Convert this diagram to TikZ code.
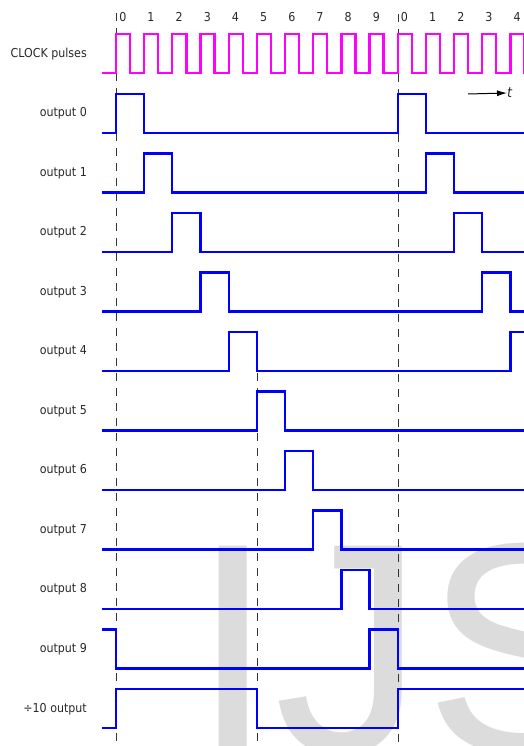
\documentclass[tikz,border=0pt]{standalone}
\usepackage{fontspec}
\setmainfont{DejaVu Sans Condensed}
\newfontfamily\wmfont{Liberation Sans}
\usetikzlibrary{arrows.meta}
\definecolor{sigblue}{RGB}{0,0,255}
\definecolor{clkmag}{RGB}{255,0,255}
\definecolor{wmgray}{RGB}{220,220,220}
\definecolor{txtgray}{RGB}{40,40,40}
\tikzset{
  sig/.style={draw=sigblue, line width=2.3pt, line join=miter},
  clk/.style={draw=clkmag, line width=2.3pt, line join=miter},
  guide/.style={draw=black!80, line width=0.9pt, dash pattern=on 8pt off 7pt},
  lbl/.style={anchor=east, inner sep=0pt, text=txtgray, font=\fontsize{12.3}{14}\selectfont},
  num/.style={anchor=center, inner sep=0pt, text=txtgray, font=\fontsize{12.3}{14}\selectfont},
}
\begin{document}
\begin{tikzpicture}[x=1pt,y=-1pt]
\useasboundingbox (0,0) rectangle (523,746);
\def\T{28.17}
\def\xo{116}
% watermark
\begin{scope}
\clip (0,0) rectangle (523,746);
\node[anchor=base west, inner sep=0pt, text=wmgray, font=\wmfont\fontsize{300}{300}\selectfont] (wm) at (191,752) {IJS};
\end{scope}
% guide lines
\draw[guide] (116,13) -- (116,746);
\draw[guide] (398,14) -- (398,746);
\draw[guide] (257,373) -- (257,746);
% numbers
\foreach \k/\n in {0/0,1/1,2/2,3/3,4/4,5/5,6/6,7/7,8/8,9/9,10/0,11/1,12/2,13/3,14/4}{
  \node[num] (n\k) at ({\xo+\k*\T+6.8},17) {\n};
}
% clock
\draw[clk] (102,73) \foreach \k in {0,...,14}{ -- ({\xo+\k*\T},73) -- ({\xo+\k*\T},34) -- ({\xo+(\k+0.5)*\T},34) -- ({\xo+(\k+0.5)*\T},73) } -- (530,73);
\node[lbl] (lclk) at (87,54) {CLOCK pulses};
% outputs 0..8
\foreach \k in {0,...,8}{
  \pgfmathsetmacro{\L}{133+59.5*\k}
  \pgfmathsetmacro{\H}{\L-39}
  \draw[sig] (102,\L) -- ({\xo+\k*\T},\L) -- ({\xo+\k*\T},\H) -- ({\xo+(\k+1)*\T},\H) -- ({\xo+(\k+1)*\T},\L)
     -- ({\xo+(\k+10)*\T},\L) -- ({\xo+(\k+10)*\T},\H) -- ({\xo+(\k+11)*\T},\H) -- ({\xo+(\k+11)*\T},\L) -- (600,\L);
  \node[lbl] (l\k) at (87,{\L-19.5}) {output \k};
}
% output 9
\draw[sig] (102,629.5) -- (116,629.5) -- (116,668.5) -- ({\xo+9*\T},668.5) -- ({\xo+9*\T},629.5) -- ({\xo+10*\T},629.5) -- ({\xo+10*\T},668.5) -- (530,668.5);
\node[lbl] (l9) at (87,649) {output 9};
% divide by 10
\draw[sig] (102,728) -- (116,728) -- (116,689) -- ({\xo+5*\T},689) -- ({\xo+5*\T},728) -- ({\xo+10*\T},728) -- ({\xo+10*\T},689) -- (530,689);
\node[lbl] (l10) at (87,709) {÷10 output};
% time arrow
\coordinate (ta) at (468,94);
\node[inner sep=0pt, anchor=west, text=txtgray, font=\fontsize{14}{14}\selectfont\itshape] (tt) at (507,93) {t};
\draw[black, line width=1pt, -{Latex[length=10pt,width=6pt]}] (ta) -- (tt.west);
\end{tikzpicture}
\end{document}
